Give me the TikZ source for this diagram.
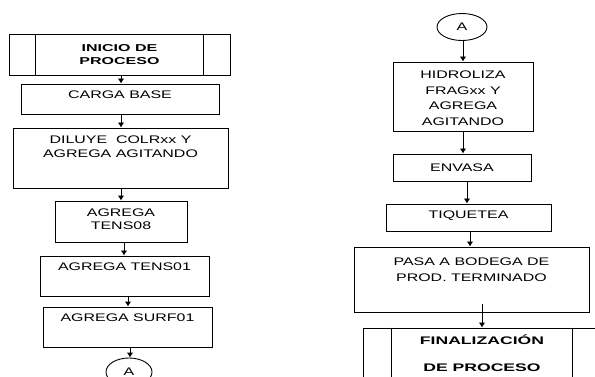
\documentclass[tikz,border=0pt]{standalone}
\usepackage{fontspec}
\setmainfont[FakeStretch=1.45]{Liberation Sans}
\newfontfamily\titlefont[FakeStretch=1.6]{Liberation Sans}
\usetikzlibrary{arrows.meta,shapes.geometric}

\begin{document}
\begin{tikzpicture}[x=1pt,y=-1pt,
  box/.style={draw,line width=0.9pt,rectangle,inner sep=0pt},
  txt/.style={align=center,inner sep=0pt,font=\fontsize{11}{14.5}\selectfont},
  txtr/.style={align=center,inner sep=0pt,font=\fontsize{11}{15.5}\selectfont},
  ttl/.style={align=center,inner sep=0pt,font=\titlefont\bfseries\fontsize{10}{12.5}\selectfont},
  ttlr/.style={align=center,inner sep=0pt,font=\titlefont\bfseries\fontsize{11}{27}\selectfont},
  arr/.style={draw,line width=0.9pt,-{Latex[length=5pt,width=6.5pt]}},
  conn/.style={draw,line width=0.9pt,ellipse,inner sep=0pt,font=\fontsize{11}{13}\selectfont}]
\useasboundingbox (0,0) rectangle (595,377);
\clip (0,0) rectangle (595,377);

% ---- left column ----
\node[box,minimum width=221pt,minimum height=41pt] (inicio) at (119.5,54.5) {};
\draw[line width=0.9pt] ([xshift=27pt]inicio.north west) -- ([xshift=27pt]inicio.south west)
                        ([xshift=-27pt]inicio.north east) -- ([xshift=-27pt]inicio.south east);
\node[ttl] at (inicio.center) {INICIO DE\\PROCESO};

\node[box,minimum width=198pt,minimum height=30pt] (carga) at (120,99) {};
\path (carga.north) ++(0,11) node[txt] {CARGA BASE};

\node[box,minimum width=215pt,minimum height=60pt] (diluye) at (120.5,158) {};
\path (diluye.north) ++(0,19) node[txt] {DILUYE\ \ COLRxx Y\\AGREGA AGITANDO};

\node[box,minimum width=132pt,minimum height=41pt] (tens08) at (121,221.5) {};
\path (tens08.north) ++(0,18.5) node[txt,font=\fontsize{11}{13}\selectfont] {AGREGA\\TENS08};

\node[box,minimum width=169pt,minimum height=40pt] (tens01) at (124.5,276) {};
\path (tens01.north) ++(0,11) node[txt] {AGREGA TENS01};

\node[box,minimum width=169pt,minimum height=40pt] (surf01) at (127.5,327) {};
\path (surf01.north) ++(0,11) node[txt] {AGREGA SURF01};

\node[conn,minimum width=46pt,minimum height=28pt] (conA1) at (129,372) {A};

% ---- right column ----
\node[conn,minimum width=50pt,minimum height=27pt] (conA2) at (462,27) {A};

\node[box,minimum width=140pt,minimum height=69pt] (hidro) at (463,96.5) {};
\path (hidro.north) ++(0,36.5) node[txtr] {HIDROLIZA\\FRAGxx Y\\AGREGA\\AGITANDO};

\node[box,minimum width=138pt,minimum height=27pt] (envasa) at (462,167.5) {};
\node[txt] at (envasa.center) {ENVASA};

\node[box,minimum width=165pt,minimum height=27pt] (tiquetea) at (468.5,217.5) {};
\node[txt] at ([yshift=1.5pt]tiquetea.center) {TIQUETEA};

\node[box,minimum width=235pt,minimum height=65pt] (pasa) at (471.5,279.5) {};
\path (pasa.north) ++(0,23) node[txtr] {PASA A BODEGA DE\\PROD. TERMINADO};

\node[box,minimum width=238pt,minimum height=62pt] (final) at (482,359) {};
\draw[line width=0.9pt] ([xshift=29pt]final.north west) -- ([xshift=29pt]final.south west)
                        ([xshift=-29pt]final.north east) -- ([xshift=-29pt]final.south east);
\path (final.north) ++(0,25.5) node[ttlr] {FINALIZACIÓN\\DE PROCESO};

% ---- connectors ----
\coordinate (ax1) at (121,0);
\coordinate (ax4) at (124,0);
\coordinate (ax5) at (128,0);
\coordinate (ax6) at (130,0);
\coordinate (ax7) at (463,0);
\coordinate (ax9) at (467,0);
\coordinate (ax10) at (470,0);
\coordinate (ax11) at (482,0);

\draw[arr] (inicio.south -| ax1) -- (carga.north -| ax1);
\draw[arr] (carga.south -| ax1) -- (diluye.north -| ax1);
\draw[arr] (diluye.south -| ax1) -- (tens08.north -| ax1);
\draw[arr] (tens08.south -| ax4) -- (tens01.north -| ax4);
\draw[arr] (tens01.south -| ax5) -- (surf01.north -| ax5);
\draw[arr] (surf01.south -| ax6) -- (conA1.north -| ax6);

\draw[arr] (conA2.south -| ax7) -- (hidro.north -| ax7);
\draw[arr] (hidro.south -| ax7) -- (envasa.north -| ax7);
\draw[arr] (envasa.south -| ax9) -- (tiquetea.north -| ax9);
\draw[arr] (tiquetea.south -| ax10) -- (pasa.north -| ax10);
\draw[arr] (pasa.south -| ax11) ++(0,-8) -- (final.north -| ax11);
\end{tikzpicture}
\end{document}
